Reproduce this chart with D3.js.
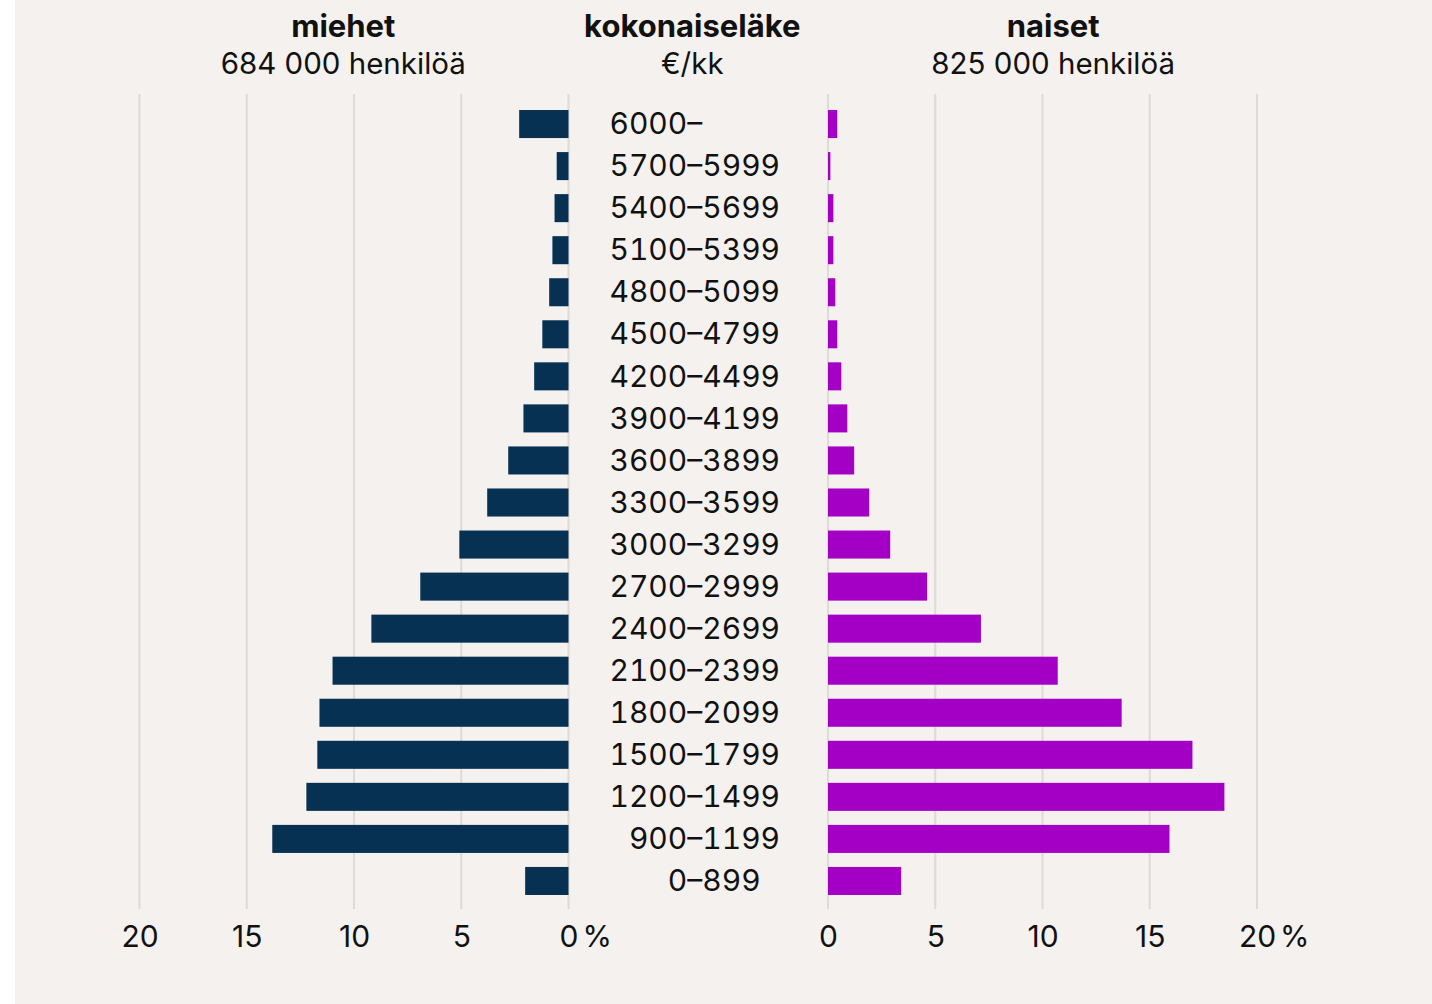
<!DOCTYPE html>
<html>
<head>
<meta charset="utf-8">
<script src="https://cdn.jsdelivr.net/npm/d3@7"></script>
<style>
  body { margin: 0; background: #fff; }
  svg text { font-family: Inter, "Noto Sans", sans-serif; fill: #111; }
</style>
</head>
<body>
<div id="chart"></div>
<script>
// pension brackets, €/kk (top to bottom)
var categories = ["6000–", "5700–5999", "5400–5699", "5100–5399", "4800–5099",
  "4500–4799", "4200–4499", "3900–4199", "3600–3899", "3300–3599", "3000–3299",
  "2700–2999", "2400–2699", "2100–2399", "1800–2099", "1500–1799", "1200–1499",
  "900–1199", "0–899"];

// share of people, %
var men = [2.3, 0.55, 0.65, 0.75, 0.9, 1.22, 1.6, 2.1, 2.81, 3.79, 5.09,
  6.91, 9.19, 11.0, 11.61, 11.71, 12.22, 13.81, 2.02];
var women = [0.43, 0.11, 0.25, 0.25, 0.34, 0.43, 0.62, 0.9, 1.22, 1.92, 2.9,
  4.62, 7.13, 10.71, 13.69, 16.99, 18.48, 15.92, 3.41];

var tickVals = [0, 5, 10, 15, 20];
var headers = {
  left: ["miehet", "684 000 henkilöä"],
  mid: ["kokonaiseläke", "€/kk"],
  right: ["naiset", "825 000 henkilöä"]
};

var width = 1432, height = 1004;

var svg = d3.select("#chart").append("svg")
  .attr("width", width)
  .attr("height", height);

// beige panel
svg.append("rect")
  .attr("x", 15).attr("y", 0)
  .attr("width", width - 15).attr("height", height)
  .attr("fill", "#f4f1ee");

var xL = d3.scaleLinear().domain([0, 20]).range([568.5, 139.5]);
var xR = d3.scaleLinear().domain([0, 20]).range([828, 1257]);
var y = d3.scaleBand().domain(categories).range([96, 909]).padding(1/3);

var mid = (xL(0) + xR(0)) / 2;

// gridlines
var grid = svg.append("g");
[xL, xR].forEach(function(sc) {
  grid.selectAll(null)
    .data(tickVals)
    .enter().append("line")
    .attr("x1", function(d) { return sc(d); })
    .attr("x2", function(d) { return sc(d); })
    .attr("y1", y.range()[0] - 2)
    .attr("y2", y.range()[1])
    .attr("stroke", "#dddad8")
    .attr("stroke-width", 2);
});

// bars
svg.append("g").selectAll("rect")
  .data(men)
  .enter().append("rect")
  .attr("x", function(d) { return xL(d); })
  .attr("y", function(d, i) { return y(categories[i]); })
  .attr("width", function(d) { return xL(0) - xL(d); })
  .attr("height", y.bandwidth())
  .attr("fill", "#063152");

svg.append("g").selectAll("rect")
  .data(women)
  .enter().append("rect")
  .attr("x", xR(0))
  .attr("y", function(d, i) { return y(categories[i]); })
  .attr("width", function(d) { return xR(d) - xR(0); })
  .attr("height", y.bandwidth())
  .attr("fill", "#a400c5");

// category labels, aligned on the dash
var labelG = svg.append("g")
  .style("font-size", "30px")
  .style("font-feature-settings", "'tnum' 1, 'case' 1");
var dashX = mid - 11;
categories.forEach(function(c) {
  var parts = c.split("–");
  var cy = y(c) + y.bandwidth() / 2;
  labelG.append("text")
    .attr("x", dashX).attr("y", cy).attr("dy", "0.34em")
    .attr("text-anchor", "end")
    .text(parts[0]);
  labelG.append("text")
    .attr("x", dashX).attr("y", cy).attr("dy", "0.34em")
    .attr("text-anchor", "start")
    .text("–" + parts[1]);
});

// axes
function drawAxis(sc, pctOn) {
  var g = svg.append("g")
    .attr("transform", "translate(0," + (y.range()[1] + 16) + ")")
    .call(d3.axisBottom(sc).tickValues(tickVals).tickSize(0).tickPadding(0));
  g.select(".domain").remove();
  g.selectAll("text")
    .attr("dy", null)
    .attr("y", 22)
    .style("font-size", "30px")
    .style("font-family", "Inter, sans-serif")
    .attr("fill", "#111");
  // percent sign after one tick
  var t = g.selectAll(".tick").filter(function(d) { return d === pctOn; });
  var w = t.select("text").node().getComputedTextLength();
  t.append("text")
    .attr("x", w / 2 + 4)
    .attr("y", 22)
    .attr("text-anchor", "start")
    .style("font-size", "30px")
    .style("font-family", "Inter, sans-serif")
    .attr("fill", "#111")
    .text("%");
}
drawAxis(xL, 0);
drawAxis(xR, 20);

// headers
function header(x, lines) {
  svg.append("text")
    .attr("x", x).attr("y", 37)
    .attr("text-anchor", "middle")
    .style("font-size", "31px")
    .style("font-weight", "700")
    .text(lines[0]);
  svg.append("text")
    .attr("x", x).attr("y", 74)
    .attr("text-anchor", "middle")
    .style("font-size", "29.5px")
    .text(lines[1]);
}
header(xL(10.5), headers.left);
header(mid - 6, headers.mid);
header(xR(10.5), headers.right);
</script>
</body>
</html>
